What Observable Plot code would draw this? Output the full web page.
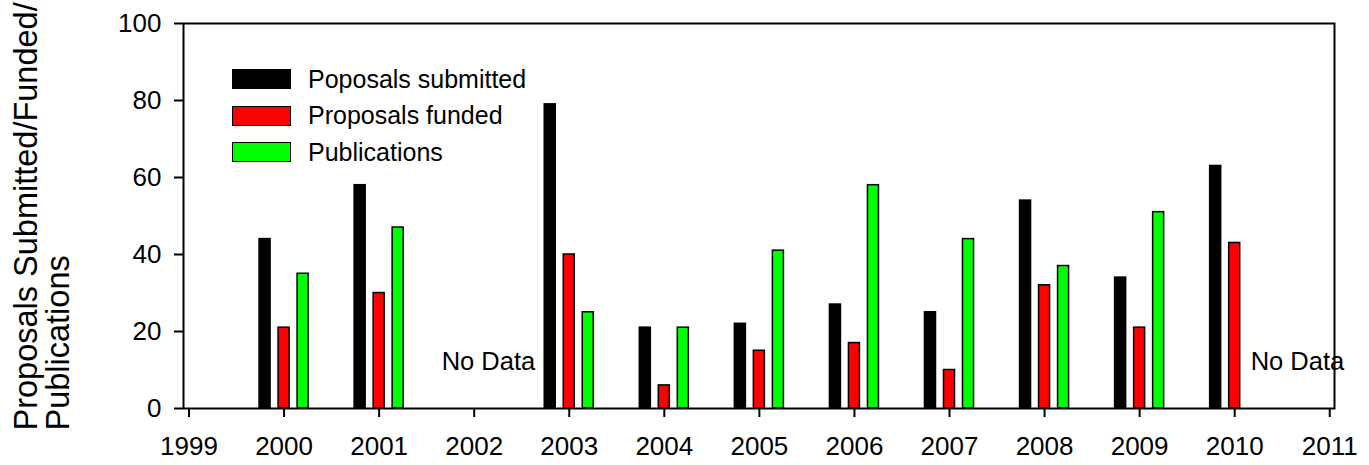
<!DOCTYPE html>
<html>
<head>
<meta charset="utf-8">
<script src="https://cdn.jsdelivr.net/npm/d3@7"></script>
<script src="https://cdn.jsdelivr.net/npm/@observablehq/plot@0.6"></script>
<style>
  html, body { margin: 0; padding: 0; background: #fff; }
  #wrap { position: relative; width: 1369px; height: 465px; font-family: "Liberation Sans", Arial, sans-serif; }
  #legend { position: absolute; left: 232px; top: 60.75px; }
  .row { display: flex; align-items: center; height: 36.5px; font-size: 25px; color: #000; }
  .sw { width: 59px; height: 20px; box-sizing: border-box; border: 1.5px solid #000; margin-right: 17px; }
</style>
</head>
<body>
<div id="wrap"></div>
<script>
// ---- data ----
const years        = [2000, 2001, 2003, 2004, 2005, 2006, 2007, 2008, 2009, 2010];
const submitted    = [44, 58, 79, 21, 22, 27, 25, 54, 34, 63];
const funded       = [21, 30, 40, 6, 15, 17, 10, 32, 21, 43];
const publications = [35, 47, 25, 21, 41, 58, 44, 37, 51, null];

const seriesNames  = ["Poposals submitted", "Proposals funded", "Publications"];
const seriesColors = ["#000000", "#ff0000", "#00ff00"];

const xTicks = [1999, 2000, 2001, 2002, 2003, 2004, 2005, 2006, 2007, 2008, 2009, 2010, 2011];
const yTicks = [0, 20, 40, 60, 80, 100];

const noDataX    = [2002.15, 2010.66];
const noDataY    = [12, 12];
const noDataText = ["No Data", "No Data"];

const yTitle = "Proposals Submitted/Funded/\nPublications";

// ---- build table ----
const seriesValues = [submitted, funded, publications];
const offsets = [-0.2, 0, 0.2];   // dodge within a year
const halfW = 0.058;
const rows = [];
seriesValues.forEach((vals, s) => {
  years.forEach((yr, i) => {
    if (vals[i] != null) rows.push({year: yr, series: seriesNames[s], value: vals[i], off: offsets[s]});
  });
});
const notes = noDataX.map((x, i) => ({x, y: noDataY[i], text: noDataText[i]}));

const font = '"Liberation Sans", Arial, sans-serif';

const chart = Plot.plot({
  width: 1369,
  height: 465,
  marginLeft: 183,
  marginRight: 35,
  marginTop: 23,
  marginBottom: 57,
  style: {fontFamily: font, fontSize: "26px", color: "#000", background: "#fff", overflow: "visible"},
  x: {type: "linear", domain: [1998.942, 2011.05]},
  y: {domain: [0, 100]},
  color: {domain: seriesNames, range: seriesColors},
  marks: [
    Plot.rectY(rows, {
      x1: d => d.year + d.off - halfW,
      x2: d => d.year + d.off + halfW,
      y1: 0,
      y2: "value",
      fill: "series",
      stroke: "#000",
      strokeWidth: 1.5
    }),
    Plot.text(notes, {x: "x", y: "y", text: "text", fontSize: 25.5, textAnchor: "middle", lineAnchor: "middle", fill: "#000"}),
    Plot.frame({stroke: "#000", strokeWidth: 2}),
    Plot.axisX({ticks: xTicks, tickFormat: "d", tickSize: 9, tickPadding: 19, strokeWidth: 2, fontSize: 26, label: null}),
    Plot.axisY({ticks: yTicks, tickSize: 9, tickPadding: 13, strokeWidth: 2, fontSize: 26, label: null}),
    Plot.text([yTitle], {
      frameAnchor: "bottom-left",
      text: d => d,
      rotate: -90,
      textAnchor: "start",
      lineAnchor: "top",
      lineHeight: 1.0,
      fontSize: 32.5,
      dx: -170,
      dy: 22,
      fill: "#000"
    })
  ]
});

const wrap = document.getElementById("wrap");
wrap.appendChild(chart);

const legend = document.createElement("div");
legend.id = "legend";
seriesNames.forEach((name, i) => {
  const row = document.createElement("div");
  row.className = "row";
  const sw = document.createElement("div");
  sw.className = "sw";
  sw.style.background = seriesColors[i];
  const lab = document.createElement("span");
  lab.textContent = name;
  row.appendChild(sw);
  row.appendChild(lab);
  legend.appendChild(row);
});
wrap.appendChild(legend);
</script>
</body>
</html>
